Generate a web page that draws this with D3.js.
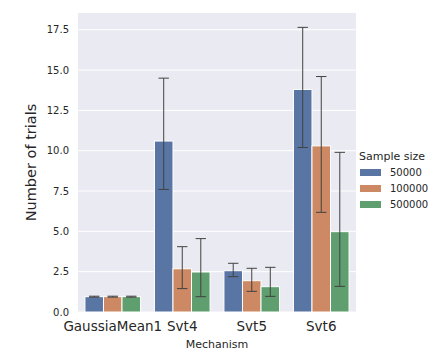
<!DOCTYPE html>
<html>
<head>
<meta charset="utf-8">
<script src="https://cdn.jsdelivr.net/npm/d3@7"></script>
<style>
  body { margin: 0; background: #fff; }
  svg text { font-family: "DejaVu Sans", sans-serif; fill: #262626; }
</style>
</head>
<body>
<div id="chart"></div>
<script>
const mechanisms = ['GaussiaMean1', 'Svt4', 'Svt5', 'Svt6'];
const sampleSizes = ['50000', '100000', '500000'];
const colors = ['#5975a4', '#cc8963', '#5f9e6e'];
// mean values, rows = mechanism, cols = sample size
const means = [
	[0.95, 0.95, 0.95],
	[10.6, 2.68, 2.48],
	[2.56, 1.94, 1.57],
	[13.8, 10.3, 4.98]
];
const errLow = [
	[0.92, 0.92, 0.92],
	[7.6, 1.45, 0.95],
	[2.19, 1.28, 0.97],
	[10.2, 6.18, 1.59]
];
const errHigh = [
	[0.98, 0.98, 0.98],
	[14.5, 4.05, 4.55],
	[3.02, 2.71, 2.77],
	[17.65, 14.6, 9.9]
];
const yTicks = [0, 2.5, 5, 7.5, 10, 12.5, 15, 17.5];

const W = 441, H = 360;
const m = { left: 78, right: 356, top: 13, bottom: 312 };

const svg = d3.select('#chart').append('svg').attr('width', W).attr('height', H);

const x = d3.scaleBand().domain(mechanisms).range([m.left, m.right]).paddingInner(0).paddingOuter(0);
const groupW = x.bandwidth() * 0.8;
const xs = d3.scaleBand().domain(sampleSizes).range([0, groupW]);
const y = d3.scaleLinear().domain([0, 18.54]).range([m.bottom, m.top]);

svg.append('rect').attr('x', m.left).attr('y', m.top)
	.attr('width', m.right - m.left).attr('height', m.bottom - m.top).attr('fill', '#eaeaf2');

// gridlines
svg.append('g').selectAll('line').data(yTicks).enter().append('line')
	.attr('x1', m.left).attr('x2', m.right)
	.attr('y1', d => y(d)).attr('y2', d => y(d))
	.attr('stroke', '#fff').attr('stroke-width', 1);

// y axis labels
const yAxis = d3.axisLeft(y).tickValues(yTicks).tickFormat(d3.format('.1f')).tickSize(0).tickPadding(9);
const yg = svg.append('g').attr('transform', `translate(${m.left},0)`).call(yAxis);
yg.select('.domain').remove();
yg.selectAll('text').style('font-size', '10px').attr('fill', '#262626').style('font-family', '"DejaVu Sans", sans-serif');

// x axis labels
const xAxis = d3.axisBottom(x).tickSize(0).tickPadding(9);
const xg = svg.append('g').attr('transform', `translate(0,${m.bottom})`).call(xAxis);
xg.select('.domain').remove();
xg.selectAll('text').style('font-size', '13.5px').attr('fill', '#262626').style('font-family', '"DejaVu Sans", sans-serif');

// bars
const rows = [];
mechanisms.forEach((mech, i) => {
	sampleSizes.forEach((s, j) => {
		rows.push({ mech, s, j, v: means[i][j], lo: errLow[i][j], hi: errHigh[i][j] });
	});
});

const barX = d => x(d.mech) + (x.bandwidth() - groupW) / 2 + xs(d.s);

svg.append('g').selectAll('rect').data(rows).enter().append('rect')
	.attr('x', barX).attr('y', d => y(d.v))
	.attr('width', xs.bandwidth()).attr('height', d => y(0) - y(d.v))
	.attr('fill', d => colors[d.j]).attr('stroke', '#fff').attr('stroke-width', 1);

// error bars
const eg = svg.append('g').attr('stroke', '#424242').attr('stroke-width', 1);
rows.forEach(d => {
	const cx = barX(d) + xs.bandwidth() / 2;
	const cap = xs.bandwidth() * 0.28;
	eg.append('line').attr('x1', cx).attr('x2', cx).attr('y1', y(d.lo)).attr('y2', y(d.hi));
	eg.append('line').attr('x1', cx - cap).attr('x2', cx + cap).attr('y1', y(d.lo)).attr('y2', y(d.lo));
	eg.append('line').attr('x1', cx - cap).attr('x2', cx + cap).attr('y1', y(d.hi)).attr('y2', y(d.hi));
});

// axis titles
svg.append('text').attr('x', (m.left + m.right) / 2).attr('y', 348)
	.attr('text-anchor', 'middle').style('font-size', '11px').text('Mechanism');
svg.append('text').attr('transform', `translate(36,${(m.top + m.bottom) / 2}) rotate(-90)`)
	.attr('text-anchor', 'middle').style('font-size', '14.5px').text('Number of trials');

// legend
const lg = svg.append('g').attr('transform', 'translate(359,0)');
lg.append('text').attr('x', 0).attr('y', 160).style('font-size', '11px').text('Sample size');
sampleSizes.forEach((s, j) => {
	lg.append('rect').attr('x', 1).attr('y', 169 + j * 16).attr('width', 21).attr('height', 7).attr('fill', colors[j]);
	lg.append('text').attr('x', 31).attr('y', 176 + j * 16).style('font-size', '10px').text(s);
});
</script>
</body>
</html>
